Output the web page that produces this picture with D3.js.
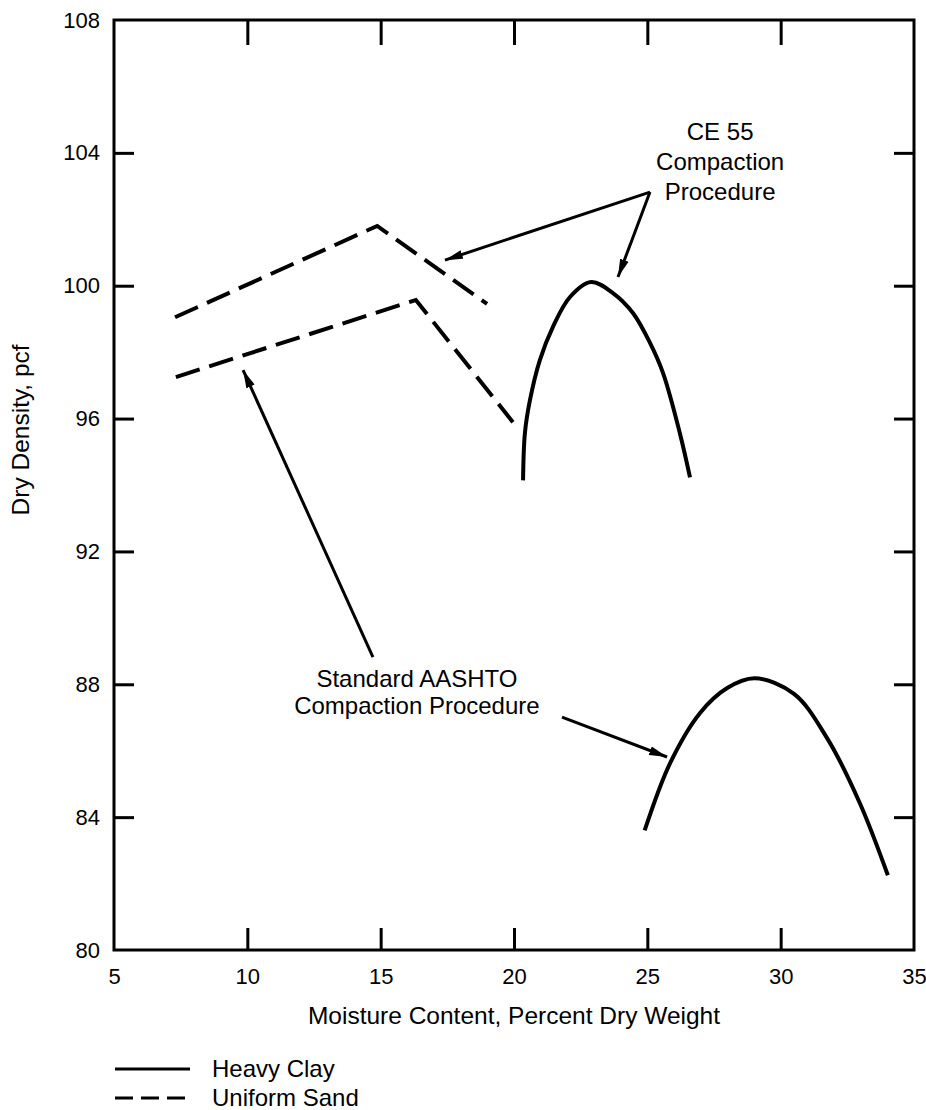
<!DOCTYPE html>
<html>
<head>
<meta charset="utf-8">
<script src="https://cdn.jsdelivr.net/npm/d3@7"></script>
<style>
  body { margin: 0; background: #fff; }
  text { font-family: "Liberation Sans", Arial, Helvetica, sans-serif; fill: #000; }
</style>
</head>
<body>
<div id="chart"></div>
<script>
// tick values
const xTicks = [5, 10, 15, 20, 25, 30, 35];
const yTicks = [80, 84, 88, 92, 96, 100, 104, 108];

// heavy clay curves (moisture %, dry density pcf)
const clayCE55 = [
  [20.34, 94.14], [20.41, 95.57], [20.6, 96.56], [20.97, 97.76], [21.46, 98.76], [22.1, 99.66],
  [22.89, 100.11], [23.71, 99.78], [24.46, 99.18], [25.1, 98.28], [25.59, 97.37], [26.22, 95.56], [26.6, 94.23]
];
const clayAASHTO = [
  [24.9, 83.6], [25.85, 85.62], [26.97, 87.13], [27.98, 87.88], [29.03, 88.18],
  [30.5, 87.71], [31.74, 86.38], [32.97, 84.42], [34.02, 82.25]
];

// uniform sand curves
const sandCE55 = [[7.29, 99.05], [14.87, 101.8], [18.99, 99.45]];
const sandAASHTO = [[7.32, 97.25], [16.32, 99.57], [19.96, 95.89]];

// annotation arrows, from -> to, in data units
const arrows = [
  [[25.1, 102.82], [17.41, 100.77]],
  [[25.1, 102.82], [23.9, 100.26]],
  [[14.71, 88.82], [9.84, 97.46]],
  [[21.8, 87.01], [25.74, 85.81]]
];
const labelCE = ["CE 55", "Compaction", "Procedure"];
const labelAASHTO = ["Standard AASHTO", "Compaction Procedure"];

const legendItems = [
  { name: "Heavy Clay", dash: null },
  { name: "Uniform Sand", dash: "18,8" }
];

function drawChart(id) {
  const w = 926;
  const h = 1110;

  const svg = d3.select(`#${id}`)
    .append("svg")
    .attr("width", w)
    .attr("height", h);

  const x = d3.scaleLinear().domain([5, 35]).range([114, 914]);
  const y = d3.scaleLinear().domain([80, 108]).range([950, 20]);

  // inward ticks on all four sides
  const inner = xTicks.slice(1, -1);
  const innerY = yTicks.slice(1, -1);

  const bottom = svg.append("g")
    .attr("transform", `translate(0,${y(80)})`)
    .call(d3.axisBottom(x).tickValues(xTicks).tickSize(-22).tickPadding(18).tickSizeOuter(0));
  bottom.selectAll(".tick line").filter(d => !inner.includes(d)).remove();

  svg.append("g")
    .attr("transform", `translate(0,${y(108)})`)
    .call(d3.axisTop(x).tickValues(inner).tickSize(-25).tickFormat(""));

  svg.append("g")
    .attr("transform", `translate(${x(5)},0)`)
    .call(d3.axisLeft(y).tickValues(yTicks).tickSize(-20).tickPadding(14).tickSizeOuter(0))
    .selectAll(".tick line").filter(d => !innerY.includes(d)).remove();

  svg.append("g")
    .attr("transform", `translate(${x(35)},0)`)
    .call(d3.axisRight(y).tickValues(innerY).tickSize(-20).tickFormat(""));

  svg.selectAll(".domain").remove();
  svg.selectAll(".tick line").attr("stroke", "#000").attr("stroke-width", 3);
  svg.selectAll(".tick text")
    .attr("font-size", 22)
    .attr("font-family", "Liberation Sans, Arial, sans-serif")
    .attr("fill", "#000");

  // frame
  svg.append("rect")
    .attr("x", x(5))
    .attr("y", y(108))
    .attr("width", x(35) - x(5))
    .attr("height", y(80) - y(108))
    .attr("fill", "none")
    .attr("stroke", "#000")
    .attr("stroke-width", 3);

  // axis titles
  svg.append("text")
    .attr("x", (x(5) + x(35)) / 2)
    .attr("y", 1024)
    .attr("text-anchor", "middle")
    .attr("font-size", 24.5)
    .text("Moisture Content, Percent Dry Weight");

  svg.append("text")
    .attr("transform", `translate(29,${y(95.66)}) rotate(-90)`)
    .attr("text-anchor", "middle")
    .attr("font-size", 24.5)
    .text("Dry Density, pcf");

  const smooth = d3.line().x(d => x(d[0])).y(d => y(d[1])).curve(d3.curveCatmullRom.alpha(0.5));
  const straight = d3.line().x(d => x(d[0])).y(d => y(d[1]));

  // clay
  svg.selectAll(".clay")
    .data([clayCE55, clayAASHTO])
    .enter()
    .append("path")
    .attr("d", smooth)
    .attr("fill", "none")
    .attr("stroke", "#000")
    .attr("stroke-width", 4);

  // sand
  svg.selectAll(".sand")
    .data([sandCE55, sandAASHTO])
    .enter()
    .append("path")
    .attr("d", straight)
    .attr("fill", "none")
    .attr("stroke", "#000")
    .attr("stroke-width", 4)
    .attr("stroke-dasharray", "25,10")
    .attr("stroke-linejoin", "miter");

  // arrows
  svg.append("defs")
    .append("marker")
    .attr("id", "head")
    .attr("viewBox", "0 -5 18 10")
    .attr("refX", 18)
    .attr("refY", 0)
    .attr("markerUnits", "userSpaceOnUse")
    .attr("markerWidth", 18)
    .attr("markerHeight", 10)
    .attr("orient", "auto")
    .append("path")
    .attr("d", "M0,-4.5L18,0L0,4.5Z")
    .attr("fill", "#000");

  svg.selectAll(".arrow")
    .data(arrows)
    .enter()
    .append("line")
    .attr("x1", d => x(d[0][0]))
    .attr("y1", d => y(d[0][1]))
    .attr("x2", d => x(d[1][0]))
    .attr("y2", d => y(d[1][1]))
    .attr("stroke", "#000")
    .attr("stroke-width", 3)
    .attr("marker-end", "url(#head)");

  // annotations
  svg.append("text")
    .attr("x", x(27.73))
    .attr("y", y(104.39))
    .attr("text-anchor", "middle")
    .attr("font-size", 24)
    .selectAll("tspan")
    .data(labelCE)
    .enter()
    .append("tspan")
    .attr("x", x(27.73))
    .attr("dy", (d, i) => (i ? 30 : 0))
    .text(d => d);

  svg.append("text")
    .attr("x", x(16.36))
    .attr("y", y(87.92))
    .attr("text-anchor", "middle")
    .attr("font-size", 24)
    .selectAll("tspan")
    .data(labelAASHTO)
    .enter()
    .append("tspan")
    .attr("x", x(16.36))
    .attr("dy", (d, i) => (i ? 27 : 0))
    .text(d => d);

  // legend
  const legend = svg.selectAll(".legend")
    .data(legendItems)
    .enter()
    .append("g")
    .attr("transform", (d, i) => `translate(115,${1069 + i * 29})`);

  legend.append("line")
    .attr("x1", 0)
    .attr("x2", 75)
    .attr("stroke", "#000")
    .attr("stroke-width", 3)
    .attr("stroke-dasharray", d => d.dash);

  legend.append("text")
    .attr("x", 97)
    .attr("y", 8)
    .attr("font-size", 24)
    .text(d => d.name);
}

document.addEventListener("DOMContentLoaded", function () {
  drawChart("chart");
});
</script>
</body>
</html>
